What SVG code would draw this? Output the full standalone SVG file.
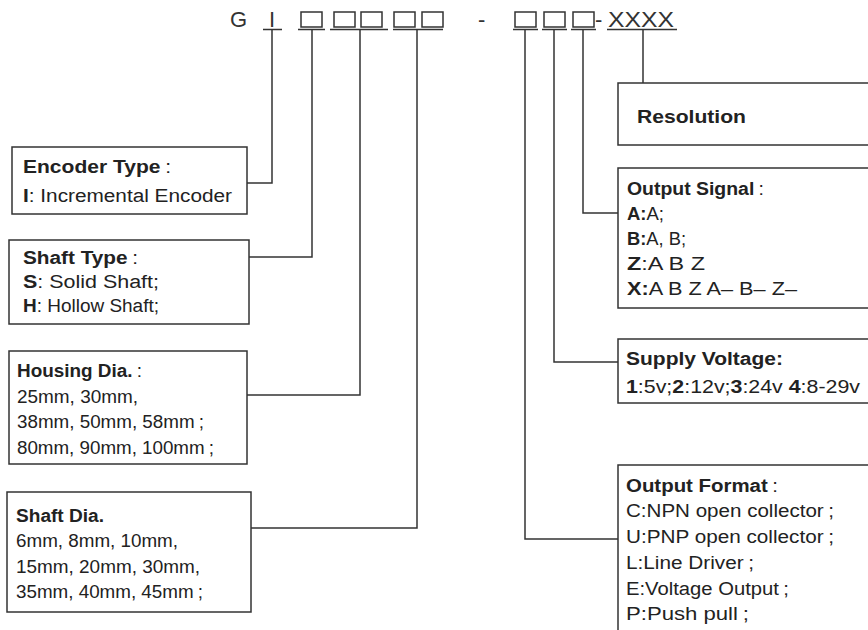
<svg xmlns="http://www.w3.org/2000/svg" width="868" height="630" viewBox="0 0 868 630">
<style>
.bg{fill:#fff}
.box{fill:#fff;stroke:#333;stroke-width:1.5}
.cn{fill:none;stroke:#333;stroke-width:1.5}
.t{font-family:"Liberation Sans",Arial,sans-serif;font-size:18px;fill:#222}
.h{font-family:"Liberation Sans",Arial,sans-serif;font-size:22px;fill:#333}
.b{font-weight:bold}
</style>
<rect class="bg" x="0" y="0" width="868" height="630"/>
<g id="header">
<text class="h" x="230" y="27">G</text>
<text class="h" x="272" y="27" text-anchor="middle">I</text>
<rect class="box" x="301" y="12" width="21" height="15"/>
<rect class="box" x="334" y="12" width="21" height="15"/>
<rect class="box" x="361" y="12" width="21" height="15"/>
<rect class="box" x="394" y="12" width="21" height="15"/>
<rect class="box" x="422" y="12" width="21" height="15"/>
<text class="h" x="478" y="27">-</text>
<rect class="box" x="515" y="12" width="21" height="15"/>
<rect class="box" x="544" y="12" width="21" height="15"/>
<rect class="box" x="573" y="12" width="21" height="15"/>
<text class="h" x="595" y="27">-</text>
<text class="h" x="608" y="27" textLength="66" lengthAdjust="spacingAndGlyphs">XXXX</text>
<path class="cn" d="M263 29.5H282M298 29.5H325M330 29.5H388M393 29.5H443M513 29.5H538M542 29.5H567M571 29.5H596M607 29.5H677"/>
</g>
<g id="connectors">
<polyline class="cn" points="272,29 272,183 247,183"/>
<polyline class="cn" points="312,29 312,257 249,257"/>
<polyline class="cn" points="360,29 360,395 247,395"/>
<polyline class="cn" points="417,29 417,528 251,528"/>
<polyline class="cn" points="525,29 525,539 618,539"/>
<polyline class="cn" points="554,29 554,362 618,362"/>
<polyline class="cn" points="583,29 583,213 618,213"/>
<polyline class="cn" points="643,29 643,83"/>
</g>
<g id="encoder-type">
<rect class="box" x="12" y="147" width="235" height="67"/>
<text class="t" x="23" y="173" textLength="148" lengthAdjust="spacingAndGlyphs"><tspan class="b">Encoder  Type</tspan><tspan dx="4">:</tspan></text>
<text class="t" x="23" y="202" textLength="209" lengthAdjust="spacingAndGlyphs"><tspan class="b">I</tspan>: Incremental Encoder</text>
</g>
<g id="shaft-type">
<rect class="box" x="9" y="240" width="240" height="84"/>
<text class="t" x="23" y="264" textLength="115" lengthAdjust="spacingAndGlyphs"><tspan class="b">Shaft Type</tspan><tspan dx="4">:</tspan></text>
<text class="t" x="23" y="288" textLength="136" lengthAdjust="spacingAndGlyphs"><tspan class="b">S</tspan>: Solid Shaft;</text>
<text class="t" x="23" y="312" textLength="136" lengthAdjust="spacingAndGlyphs"><tspan class="b">H</tspan>: Hollow Shaft;</text>
</g>
<g id="housing-dia">
<rect class="box" x="9" y="351" width="238" height="113"/>
<text class="t" x="17" y="377" textLength="125" lengthAdjust="spacingAndGlyphs"><tspan class="b">Housing Dia.</tspan><tspan dx="4">:</tspan></text>
<text class="t" x="17" y="403" textLength="121" lengthAdjust="spacingAndGlyphs">25mm, 30mm,</text>
<text class="t" x="17" y="428" textLength="187" lengthAdjust="spacingAndGlyphs">38mm, 50mm, 58mm<tspan dx="4">;</tspan></text>
<text class="t" x="17" y="454" textLength="197" lengthAdjust="spacingAndGlyphs">80mm, 90mm, 100mm<tspan dx="4">;</tspan></text>
</g>
<g id="shaft-dia">
<rect class="box" x="7" y="492" width="244" height="120"/>
<text class="t b" x="16" y="522" textLength="88" lengthAdjust="spacingAndGlyphs">Shaft Dia.</text>
<text class="t" x="16" y="547" textLength="162" lengthAdjust="spacingAndGlyphs">6mm, 8mm, 10mm,</text>
<text class="t" x="16" y="573" textLength="184" lengthAdjust="spacingAndGlyphs">15mm, 20mm, 30mm,</text>
<text class="t" x="16" y="598" textLength="187" lengthAdjust="spacingAndGlyphs">35mm, 40mm, 45mm<tspan dx="4">;</tspan></text>
</g>
<g id="resolution">
<rect class="box" x="618" y="83" width="270" height="62"/>
<text class="t b" x="637" y="123" textLength="109" lengthAdjust="spacingAndGlyphs">Resolution</text>
</g>
<g id="output-signal">
<rect class="box" x="618" y="168" width="270" height="140"/>
<text class="t" x="627" y="195" textLength="137" lengthAdjust="spacingAndGlyphs"><tspan class="b">Output Signal</tspan><tspan dx="4">:</tspan></text>
<text class="t" x="627" y="220" textLength="37" lengthAdjust="spacingAndGlyphs"><tspan class="b">A:</tspan>A;</text>
<text class="t" x="627" y="245" textLength="59" lengthAdjust="spacingAndGlyphs"><tspan class="b">B:</tspan>A, B;</text>
<text class="t" x="627" y="270" textLength="78" lengthAdjust="spacingAndGlyphs"><tspan class="b">Z</tspan>:A B Z</text>
<text class="t" x="627" y="295" textLength="170" lengthAdjust="spacingAndGlyphs"><tspan class="b">X:</tspan>A B Z A– B– Z–</text>
</g>
<g id="supply-voltage">
<rect class="box" x="618" y="339" width="270" height="64"/>
<text class="t b" x="626" y="365" textLength="157" lengthAdjust="spacingAndGlyphs">Supply Voltage:</text>
<text class="t" x="626" y="393" textLength="234" lengthAdjust="spacingAndGlyphs"><tspan class="b">1</tspan>:5v;<tspan class="b">2</tspan>:12v;<tspan class="b">3</tspan>:24v <tspan class="b">4</tspan>:8-29v</text>
</g>
<g id="output-format">
<rect class="box" x="618" y="465" width="270" height="200"/>
<text class="t" x="626" y="492" textLength="152" lengthAdjust="spacingAndGlyphs"><tspan class="b">Output Format</tspan><tspan dx="4">:</tspan></text>
<text class="t" x="626" y="517" textLength="208" lengthAdjust="spacingAndGlyphs">C:NPN open collector<tspan dx="4">;</tspan></text>
<text class="t" x="626" y="543" textLength="208" lengthAdjust="spacingAndGlyphs">U:PNP open collector<tspan dx="4">;</tspan></text>
<text class="t" x="626" y="569" textLength="128" lengthAdjust="spacingAndGlyphs">L:Line Driver<tspan dx="4">;</tspan></text>
<text class="t" x="626" y="595" textLength="163" lengthAdjust="spacingAndGlyphs">E:Voltage Output<tspan dx="4">;</tspan></text>
<text class="t" x="626" y="620" textLength="123" lengthAdjust="spacingAndGlyphs">P:Push pull<tspan dx="4">;</tspan></text>
</g>
</svg>
